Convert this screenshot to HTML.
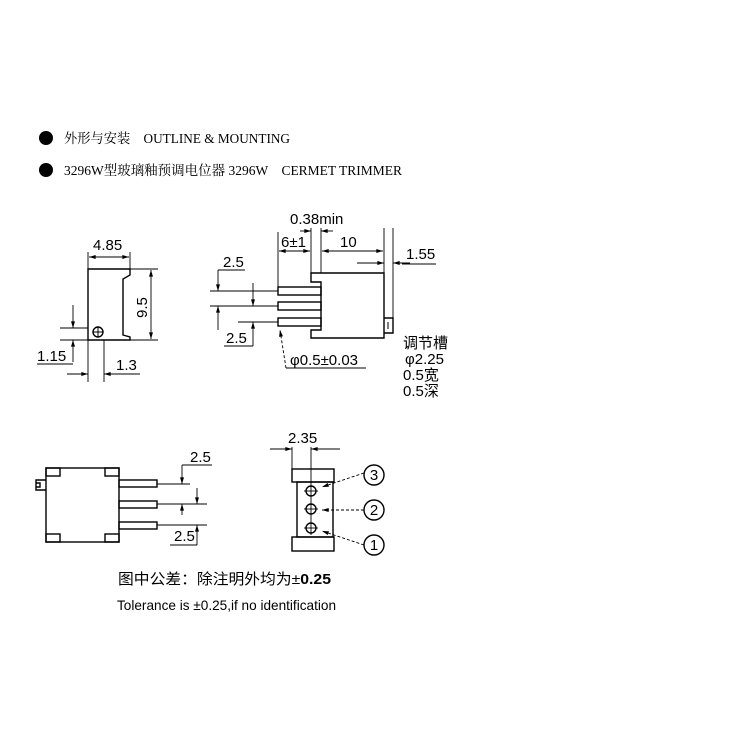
<!DOCTYPE html>
<html><head><meta charset="utf-8"><style>
html,body{margin:0;padding:0;background:#fff;}
svg{display:block}
.s{font-family:"Liberation Serif","Noto Serif CJK SC",serif;}
.a{font-family:"Liberation Sans","Noto Sans CJK SC",sans-serif;}
</style></head><body>
<svg width="748" height="748" viewBox="0 0 748 748" xmlns="http://www.w3.org/2000/svg">
<defs>
<marker id="ar" viewBox="0 0 10 6" refX="10" refY="3" markerWidth="7" markerHeight="4" orient="auto-start-reverse" markerUnits="userSpaceOnUse"><path d="M0,0L10,3L0,6z" fill="#000"/></marker>
</defs>
<rect width="748" height="748" fill="#fff"/>
<circle cx="46" cy="138" r="7" fill="#000"/>
<circle cx="46" cy="170" r="7" fill="#000"/>
<text class="s" x="64" y="143" font-size="13.5" textLength="226" lengthAdjust="spacingAndGlyphs">外形与安装　OUTLINE &amp; MOUNTING</text>
<text class="s" x="64" y="175" font-size="13.5" textLength="338" lengthAdjust="spacingAndGlyphs">3296W型玻璃釉预调电位器  3296W　CERMET TRIMMER</text>

<g stroke="#000" stroke-width="1.4" fill="none">
<path d="M88,269 H130 V275 L123,279 V335 L130,337 V340 H88 Z"/>
<circle cx="98" cy="332" r="5"/>
<line x1="93" y1="332" x2="103" y2="332" stroke-width="1"/>
<line x1="98" y1="327" x2="98" y2="337" stroke-width="1"/>
</g>
<g stroke="#000" stroke-width="0.9" fill="none">
<line x1="88" y1="252" x2="88" y2="269"/><line x1="130" y1="252" x2="130" y2="269"/>
<line x1="89" y1="257" x2="129" y2="257" marker-start="url(#ar)" marker-end="url(#ar)"/>
<line x1="130" y1="269" x2="158" y2="269"/><line x1="130" y1="340" x2="158" y2="340"/>
<line x1="151" y1="270" x2="151" y2="339" marker-start="url(#ar)" marker-end="url(#ar)"/>
<line x1="60" y1="328" x2="88" y2="328"/><line x1="60" y1="340" x2="88" y2="340"/>
<line x1="73" y1="305" x2="73" y2="328" marker-end="url(#ar)"/>
<line x1="73" y1="362" x2="73" y2="340" marker-end="url(#ar)"/>
<line x1="37" y1="364" x2="73" y2="364"/>
<line x1="88" y1="340" x2="88" y2="382"/><line x1="104" y1="340" x2="104" y2="382"/>
<line x1="67" y1="374" x2="88" y2="374" marker-end="url(#ar)"/>
<line x1="140" y1="374" x2="104" y2="374" marker-end="url(#ar)"/>
</g>
<g class="a" font-size="15">
<text x="93" y="250">4.85</text>
<text x="37" y="361">1.15</text>
<text x="116" y="370">1.3</text>
<text x="0" y="0" transform="translate(147,318) rotate(-90)">9.5</text>
</g>

<g stroke="#000" stroke-width="1.4" fill="none">
<path d="M311,273 H384 V338 H311 V330 H321 V282 H311 Z"/>
<rect x="278" y="287" width="43" height="8"/>
<rect x="278" y="302" width="43" height="8"/>
<rect x="278" y="318" width="43" height="8"/>
<path d="M384,318 H393 V333 H384"/>
<path d="M388,322 V329" stroke-width="1"/>
</g>
<g stroke="#000" stroke-width="0.9" fill="none">
<line x1="278" y1="232" x2="278" y2="287"/>
<line x1="311" y1="228" x2="311" y2="273"/>
<line x1="321" y1="228" x2="321" y2="273"/>
<line x1="384" y1="228" x2="384" y2="273"/>
<line x1="393" y1="228" x2="393" y2="318"/>
<line x1="300" y1="231" x2="311" y2="231" marker-end="url(#ar)"/>
<line x1="333" y1="231" x2="321" y2="231" marker-end="url(#ar)"/>
<line x1="279" y1="251" x2="310" y2="251" marker-start="url(#ar)" marker-end="url(#ar)"/>
<line x1="322" y1="251" x2="383" y2="251" marker-start="url(#ar)" marker-end="url(#ar)"/>
<line x1="357" y1="263" x2="384" y2="263" marker-end="url(#ar)"/>
<line x1="410" y1="263" x2="393" y2="263" marker-end="url(#ar)"/>
<line x1="402" y1="264" x2="436" y2="264"/>
<line x1="210" y1="291" x2="278" y2="291"/>
<line x1="210" y1="306" x2="278" y2="306"/>
<line x1="238" y1="322" x2="278" y2="322"/>
<line x1="218" y1="270" x2="245" y2="270"/>
<line x1="218" y1="270" x2="218" y2="291" marker-end="url(#ar)"/>
<line x1="218" y1="330" x2="218" y2="306" marker-end="url(#ar)"/>
<line x1="253" y1="283" x2="253" y2="306" marker-end="url(#ar)"/>
<line x1="253" y1="346" x2="253" y2="322" marker-end="url(#ar)"/>
<line x1="224" y1="346" x2="253" y2="346"/>
<path d="M286,368 L280,330" stroke-dasharray="3,2" marker-end="url(#ar)"/>
<line x1="286" y1="368" x2="366" y2="368"/>
</g>
<g class="a" font-size="15">
<text x="290" y="224">0.38min</text>
<text x="281" y="247">6±1</text>
<text x="340" y="247">10</text>
<text x="406" y="259">1.55</text>
<text x="223" y="267">2.5</text>
<text x="226" y="343">2.5</text>
<text x="290" y="365">φ0.5±0.03</text>
<text x="403" y="348">调节槽</text>
<text x="405" y="364">φ2.25</text>
<text x="403" y="380">0.5宽</text>
<text x="403" y="396">0.5深</text>
</g>

<g stroke="#000" stroke-width="1.4" fill="none">
<rect x="46" y="468" width="73" height="74"/>
<rect x="46" y="468" width="14" height="8"/>
<rect x="105" y="468" width="14" height="8"/>
<rect x="46" y="534" width="14" height="8"/>
<rect x="105" y="534" width="14" height="8"/>
<path d="M46,480 H36 V490 H46 M36,483 H40 V487 H36"/>
<rect x="119" y="480" width="38" height="7"/>
<rect x="119" y="501" width="38" height="7"/>
<rect x="119" y="522" width="38" height="7"/>
</g>
<g stroke="#000" stroke-width="0.9" fill="none">
<line x1="157" y1="484" x2="190" y2="484"/>
<line x1="157" y1="504" x2="207" y2="504"/>
<line x1="157" y1="525" x2="207" y2="525"/>
<line x1="182" y1="465" x2="212" y2="465"/>
<line x1="182" y1="465" x2="182" y2="484" marker-end="url(#ar)"/>
<line x1="182" y1="515" x2="182" y2="504" marker-end="url(#ar)"/>
<line x1="197" y1="488" x2="197" y2="504" marker-end="url(#ar)"/>
<line x1="197" y1="545" x2="197" y2="525" marker-end="url(#ar)"/>
<line x1="170" y1="545" x2="197" y2="545"/>
</g>
<g class="a" font-size="15">
<text x="190" y="462">2.5</text>
<text x="174" y="541">2.5</text>
</g>

<g stroke="#000" stroke-width="1.4" fill="none">
<rect x="292" y="469" width="42" height="13"/>
<rect x="297" y="482" width="36" height="55"/>
<rect x="292" y="537" width="42" height="14"/>
<circle cx="311" cy="491" r="5"/><circle cx="311" cy="509" r="5"/><circle cx="311" cy="528" r="5"/>
<circle cx="374" cy="475" r="10"/><circle cx="374" cy="510" r="10"/><circle cx="374" cy="545" r="10"/>
</g>
<g stroke="#000" stroke-width="0.9" fill="none">
<line x1="311" y1="447" x2="311" y2="535"/>
<line x1="292" y1="447" x2="292" y2="469"/>
<line x1="304" y1="491" x2="318" y2="491"/><line x1="304" y1="509" x2="318" y2="509"/><line x1="304" y1="528" x2="318" y2="528"/>
<line x1="270" y1="449" x2="292" y2="449" marker-end="url(#ar)"/>
<line x1="340" y1="449" x2="311" y2="449" marker-end="url(#ar)"/>
<path d="M364,473 L322,487" stroke-dasharray="3,2" marker-end="url(#ar)"/>
<path d="M364,510 L322,510" stroke-dasharray="3,2" marker-end="url(#ar)"/>
<path d="M364,545 L322,531" stroke-dasharray="3,2" marker-end="url(#ar)"/>
</g>
<g class="a" font-size="15">
<text x="288" y="443">2.35</text>
<text x="374" y="480" text-anchor="middle">3</text>
<text x="374" y="515" text-anchor="middle">2</text>
<text x="374" y="550" text-anchor="middle">1</text>
</g>

<text class="a" x="118" y="584" font-size="15" textLength="213" lengthAdjust="spacingAndGlyphs">图中公差：除注明外均为±<tspan font-weight="bold">0.25</tspan></text>
<text class="a" x="117" y="610" font-size="14" textLength="219" lengthAdjust="spacingAndGlyphs">Tolerance is ±0.25,if no identification</text>
</svg>
</body></html>
